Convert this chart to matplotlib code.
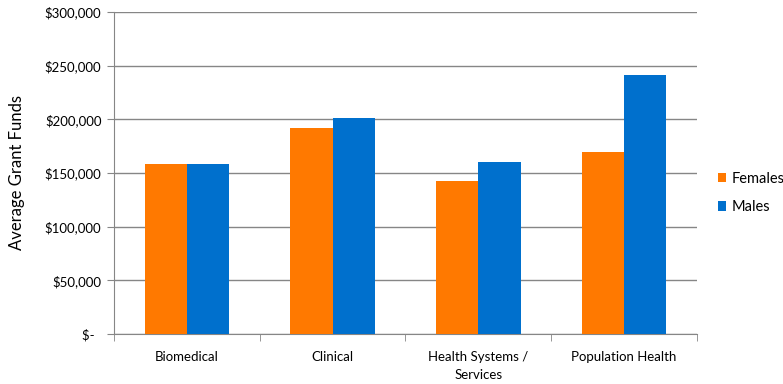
import matplotlib.pyplot as plt
import numpy as np

categories = ['Biomedical', 'Clinical', 'Health Systems /\nServices', 'Population Health']
females = [158700, 192300, 142800, 169900]
males = [158700, 201200, 160500, 241000]
yticks = [0, 50000, 100000, 150000, 200000, 250000, 300000]
ylabels = ['$-  ', '$50,000', '$100,000', '$150,000', '$200,000', '$250,000', '$300,000']

plt.rcParams['font.family'] = ['Lato', 'DejaVu Sans']
grey = '#868686'

fig = plt.figure(figsize=(7.83, 3.84), dpi=100)
ax = fig.add_axes([0.1456, 0.130, 0.7444, 0.839])

x = np.arange(len(categories))
w = 0.29
ax.bar(x - w/2, females, w, color='#FF7900', label='Females', zorder=3)
ax.bar(x + w/2, males, w, color='#0070CD', label='Males', zorder=3)

ax.set_xlim(-0.5, len(categories) - 0.5)
ax.set_ylim(0, 300000)
ax.set_yticks(yticks)
ax.set_yticklabels(ylabels, fontsize=9.5)
ax.yaxis.grid(True, color=grey, linewidth=1, zorder=0)

ax.set_xticks(x)
ax.set_xticklabels(categories, fontsize=9.5, linespacing=1.6)
ax.set_xticks(np.arange(len(categories) + 1) - 0.5, minor=True)
ax.tick_params(axis='x', which='major', length=0, pad=12)
ax.tick_params(axis='x', which='minor', length=5, color=grey)
ax.tick_params(axis='y', length=5, color=grey, pad=4)

for s in ['top', 'right']:
    ax.spines[s].set_visible(False)
for s in ['left', 'bottom']:
    ax.spines[s].set_color(grey)

ax.set_ylabel('Average Grant Funds', fontsize=12, labelpad=14)

ax.legend(loc='center left', bbox_to_anchor=(1.013, 0.438), frameon=False,
          fontsize=10.5, handlelength=0.6, handleheight=0.6, handletextpad=0.35,
          labelspacing=1.0)

fig.savefig('out.png', dpi=100)
